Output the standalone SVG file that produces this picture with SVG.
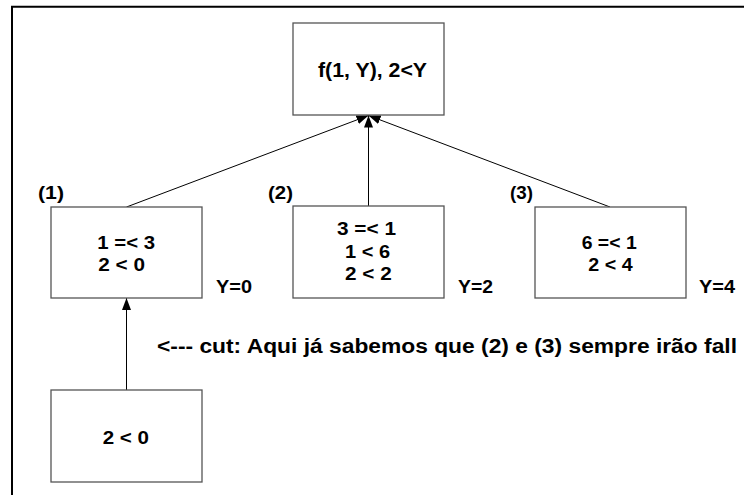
<svg xmlns="http://www.w3.org/2000/svg" width="744" height="495" viewBox="0 0 744 495">
<style>
.box{fill:#fff;stroke:#555;stroke-width:1.3}
.t{font-family:"Liberation Sans",Arial,sans-serif;font-weight:bold;fill:#000}
.s{font-size:18.5px}
.l{font-size:20px}
.edge{stroke:#000;stroke-width:1;fill:none;marker-end:url(#ah)}
</style>
<defs>
<marker id="ah" markerWidth="12" markerHeight="9" refX="12" refY="4.5" orient="auto" markerUnits="userSpaceOnUse">
<path d="M0,0 L12,4.5 L0,9 Z" fill="#000"/>
</marker>
</defs>
<rect width="744" height="495" fill="#fff"/>
<path d="M12,495 V6.7 H744" fill="none" stroke="#000" stroke-width="2"/>
<g id="connectors">
<line class="edge" x1="126.5" y1="207" x2="368.5" y2="115.5"/>
<line class="edge" x1="368.5" y1="206" x2="368.5" y2="115.5"/>
<line class="edge" x1="610" y1="207" x2="368.5" y2="115.5"/>
<line class="edge" x1="126.5" y1="390" x2="126.5" y2="298"/>
</g>
<g id="root">
<rect class="box" x="293" y="23" width="151" height="92"/>
<text class="t l" x="318" y="77" textLength="109" lengthAdjust="spacingAndGlyphs">f(1, Y), 2&lt;Y</text>
</g>
<g id="n1">
<rect class="box" x="51" y="207" width="151" height="91"/>
<text class="t s" x="38" y="199" textLength="26" lengthAdjust="spacingAndGlyphs">(1)</text>
<text class="t s" x="97.3" y="249" textLength="57.7" lengthAdjust="spacingAndGlyphs">1 =&lt; 3</text>
<text class="t s" x="98.3" y="271" textLength="46.7" lengthAdjust="spacingAndGlyphs">2 &lt; 0</text>
<text class="t s" x="216" y="293" textLength="36" lengthAdjust="spacingAndGlyphs">Y=0</text>
</g>
<g id="n2">
<rect class="box" x="293" y="206" width="151" height="92"/>
<text class="t s" x="268" y="199" textLength="25" lengthAdjust="spacingAndGlyphs">(2)</text>
<text class="t s" x="337" y="235" textLength="59" lengthAdjust="spacingAndGlyphs">3 =&lt; 1</text>
<text class="t s" x="345" y="258" textLength="45" lengthAdjust="spacingAndGlyphs">1 &lt; 6</text>
<text class="t s" x="345" y="280" textLength="46.7" lengthAdjust="spacingAndGlyphs">2 &lt; 2</text>
<text class="t s" x="458" y="293" textLength="35" lengthAdjust="spacingAndGlyphs">Y=2</text>
</g>
<g id="n3">
<rect class="box" x="535" y="207" width="151" height="91"/>
<text class="t s" x="510" y="199" textLength="23" lengthAdjust="spacingAndGlyphs">(3)</text>
<text class="t s" x="581.7" y="249" textLength="55" lengthAdjust="spacingAndGlyphs">6 =&lt; 1</text>
<text class="t s" x="588.3" y="271" textLength="44.3" lengthAdjust="spacingAndGlyphs">2 &lt; 4</text>
<text class="t s" x="699" y="293" textLength="36" lengthAdjust="spacingAndGlyphs">Y=4</text>
</g>
<g id="n4">
<rect class="box" x="51" y="390" width="151" height="92"/>
<text class="t s" x="102.7" y="444" textLength="46.3" lengthAdjust="spacingAndGlyphs">2 &lt; 0</text>
</g>
<g id="note">
<text class="t l" x="157" y="353" textLength="580" lengthAdjust="spacingAndGlyphs">&lt;---  cut: Aqui já sabemos que (2) e (3) sempre irão fall</text>
</g>
</svg>
